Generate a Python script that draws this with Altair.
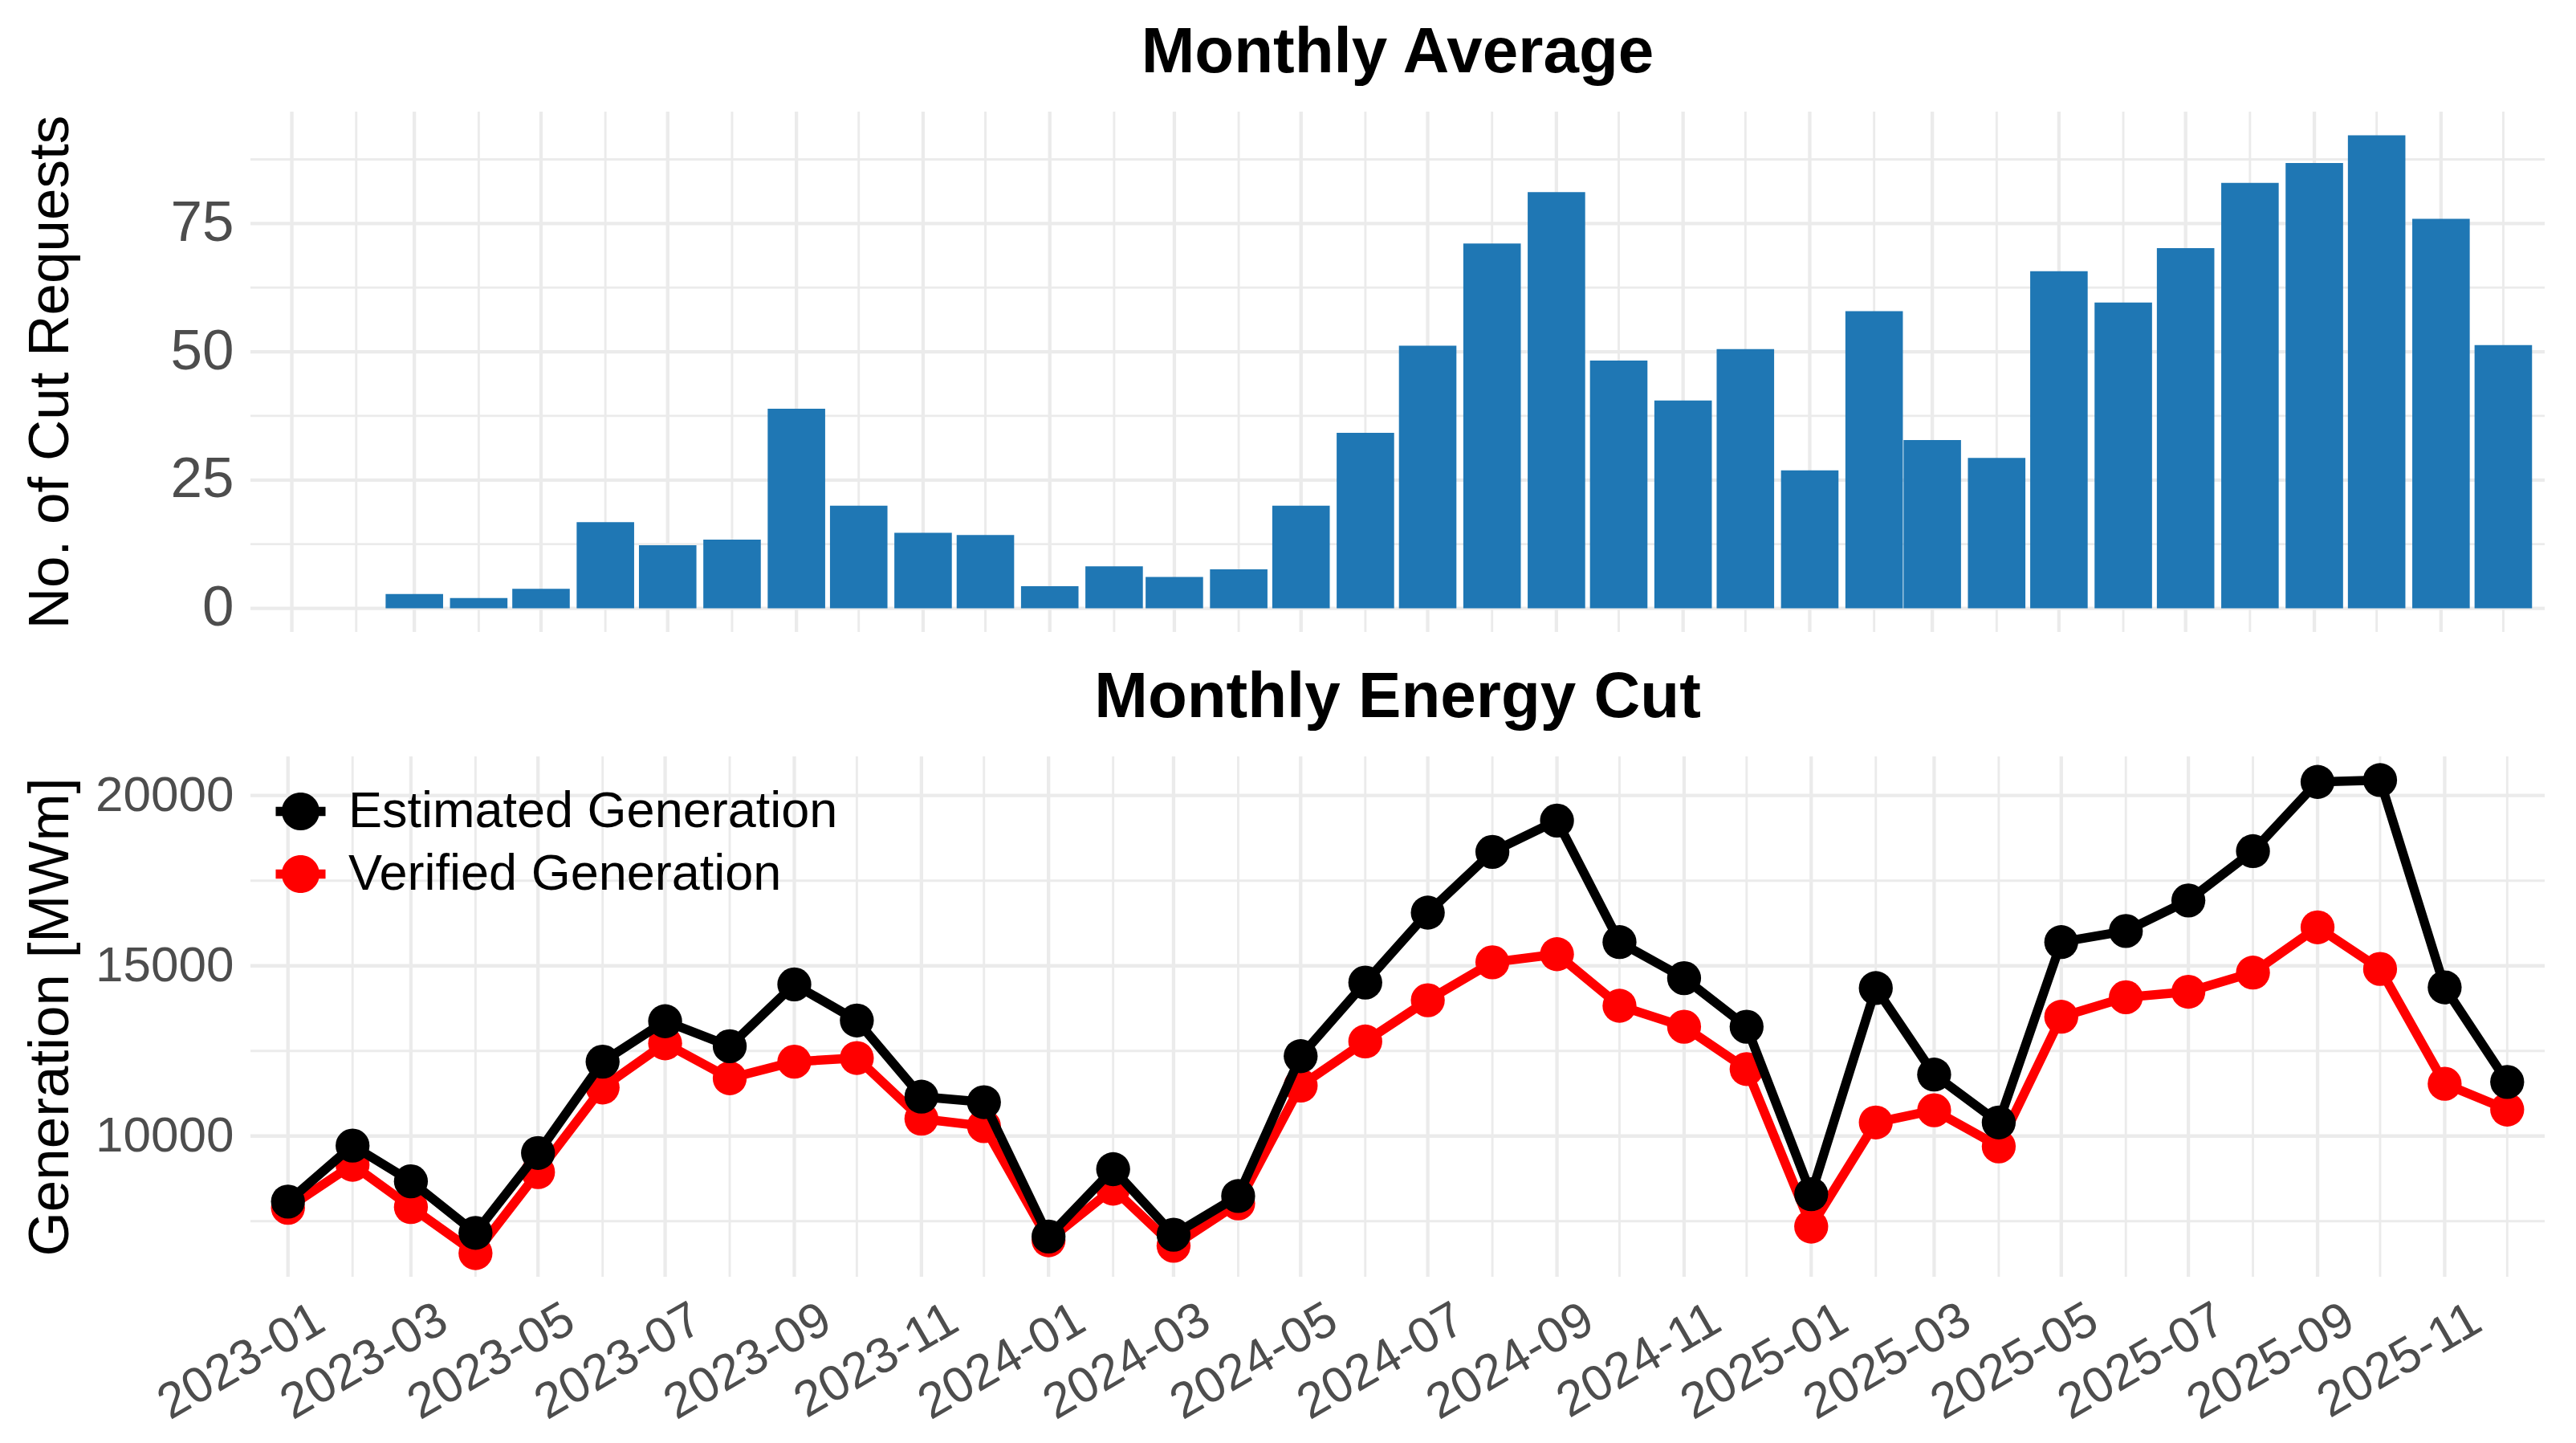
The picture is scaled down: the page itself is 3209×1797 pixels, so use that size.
import altair as alt
import pandas as pd

FONT = "Liberation Sans"
GRID = "#EBEBEB"

# ---------------- data ----------------
months = [f"{y}-{m:02d}-01" for y in (2023, 2024, 2025) for m in range(1, 13)]

cut_requests = [0, 0, 2.8, 2.0, 3.8, 16.8, 12.3, 13.4, 38.9, 20.0, 14.7, 14.3,
                4.3, 8.2, 6.1, 7.6, 20.0, 34.2, 51.2, 71.1, 81.1, 48.3, 40.5, 50.5,
                26.9, 57.9, 32.8, 29.3, 65.7, 59.6, 70.2, 82.9, 86.8, 92.2, 75.9, 51.3]

estimated = [8076, 9719, 8670, 7157, 9503, 12184, 13373, 12638, 14454, 13395, 11157, 10995,
             7049, 9027, 7103, 8238, 12346, 14508, 16562, 18346, 19265, 15697, 14638, 13211,
             8292, 14346, 11805, 10400, 15697, 16022, 16919, 18368, 20400, 20454, 14368, 11589]

verified = [7892, 9157, 7914, 6562, 8940, 11427, 12724, 11697, 12184, 12292, 10508, 10292,
            6940, 8454, 6778, 8022, 11481, 12778, 13989, 15103, 15341, 13827, 13211, 11968,
            7341, 10400, 10757, 9697, 13503, 14076, 14238, 14800, 16130, 14908, 11535, 10778]

series_names = ["Estimated Generation", "Verified Generation"]
series_colors = ["#000000", "#FF0000"]

y_top_ticks = [0, 25, 50, 75]
y_top_minor = [12.5, 37.5, 62.5, 87.5]
y_bot_ticks = [10000, 15000, 20000]
y_bot_minor = [7500, 12500, 17500]
label_months = months[0::2]
minor_months = months[1::2]

# ---------------- helpers ----------------
W, H = 2858, 648


def dt(s):
    y, m, d = map(int, s.split("-"))
    return alt.DateTime(year=y, month=m, date=d, utc=True)


x_scale = alt.Scale(type="utc", domain=[dt("2022-12-14"), dt("2025-12-19")])
y_top_scale = alt.Scale(domain=[-4.61, 96.8], nice=False, zero=False)
y_bot_scale = alt.Scale(domain=[5867, 21149], nice=False, zero=False)

df_bar = pd.DataFrame({"month": months, "requests": cut_requests})
df_gen = pd.DataFrame({
    "month": months + months,
    "value": estimated + verified,
    "series": [series_names[0]] * len(months) + [series_names[1]] * len(months),
})


def title(text):
    return alt.TitleParams(text=text, fontSize=80, fontWeight="bold", font=FONT,
                           color="black", anchor="middle", frame="group",
                           baseline="alphabetic", offset=-33)


def y_axis(vals, title_text, label_size, fmt):
    return alt.Axis(values=vals, format=fmt, labelFontSize=label_size,
                    labelColor="#4D4D4D", labelFont=FONT, labelPadding=21,
                    ticks=False, domain=False, grid=False,
                    title=title_text, titleFontSize=71, titleFontWeight="normal",
                    titleColor="black", titleFont=FONT, titleAngle=270,
                    titleBaseline="alphabetic", titleAlign="center",
                    titleX=-228, titleY=H / 2)


x_axis_top = None
x_axis_bot = alt.Axis(values=[dt(m) for m in label_months], format="%Y-%m",
                      labelAngle=330, labelAlign="right", labelBaseline="top",
                      labelFontSize=62, labelColor="#4D4D4D", labelFont=FONT,
                      labelPadding=22, labelOffset=25, labelOverlap=False,
                      labelFlush=False, labelLimit=0, grid=False, ticks=False,
                      domain=False, title=None)
y_axis_top = y_axis(y_top_ticks, "No. of Cut Requests", 71, "d")
y_axis_bot = y_axis(y_bot_ticks, "Generation [MWm]", 62, "d")


def vgrid(ms, width, xaxis):
    return alt.Chart(pd.DataFrame({"month": ms})).mark_rule(
        color=GRID, strokeWidth=width
    ).encode(x=alt.X("month:T", scale=x_scale, axis=xaxis))


def hgrid(vals, scale, width, yaxis):
    return alt.Chart(pd.DataFrame({"v": vals})).mark_rule(
        color=GRID, strokeWidth=width
    ).encode(y=alt.Y("v:Q", scale=scale, axis=yaxis))


# ---------------- top: bars ----------------
bars = alt.Chart(df_bar).mark_bar(color="#1F77B4", size=71.6).encode(
    x=alt.X("month:T", scale=x_scale, axis=x_axis_top),
    y=alt.Y("requests:Q", scale=y_top_scale, axis=y_axis_top),
    y2=alt.datum(0),
)

top = alt.layer(
    vgrid(label_months, 4.3, x_axis_top), vgrid(minor_months, 2.9, x_axis_top),
    hgrid(y_top_ticks, y_top_scale, 4.3, y_axis_top),
    hgrid(y_top_minor, y_top_scale, 2.9, y_axis_top),
    bars,
).properties(width=W, height=H, title=title("Monthly Average"))

# ---------------- bottom: lines ----------------
PATH = "M-1.32,-0.24H1.32V0.24H-1.32Z M-1,0A1,1,0,1,1,1,0A1,1,0,1,1,-1,0Z"
legend = alt.Legend(title=None, orient="none", legendX=31, legendY=37,
                    symbolType=PATH, symbolSize=2209, symbolStrokeWidth=0,
                    symbolOpacity=1, labelFontSize=63, labelColor="black",
                    labelFont=FONT, labelOffset=28, labelLimit=0,
                    rowPadding=14, padding=0)

color_scale = alt.Scale(domain=series_names, range=series_colors)
base = alt.Chart(df_gen).encode(
    x=alt.X("month:T", scale=x_scale, axis=x_axis_bot),
    y=alt.Y("value:Q", scale=y_bot_scale, axis=y_axis_bot),
)


def series_layers(name, col):
    sub = base.transform_filter(alt.datum.series == name)
    line = sub.mark_line(strokeWidth=11.5, strokeJoin="round", strokeCap="butt", color=col)
    pts = sub.mark_circle(size=1790, opacity=1).encode(
        color=alt.Color("series:N", scale=color_scale, legend=legend))
    return [line, pts]


bottom = alt.layer(
    vgrid(label_months, 4.3, x_axis_bot), vgrid(minor_months, 2.9, x_axis_bot),
    hgrid(y_bot_ticks, y_bot_scale, 4.3, y_axis_bot),
    hgrid(y_bot_minor, y_bot_scale, 2.9, y_axis_bot),
    *series_layers("Verified Generation", series_colors[1]),
    *series_layers("Estimated Generation", series_colors[0]),
).properties(width=W, height=H, title=title("Monthly Energy Cut"))

chart = alt.vconcat(top, bottom, spacing=35).resolve_scale(color="independent").properties(
    padding={"left": 19, "top": 17, "right": 5, "bottom": 0},
    background="white",
).configure(font=FONT).configure_view(stroke=None)

chart.save("out.html", embed_options={"renderer": "svg", "actions": False})
